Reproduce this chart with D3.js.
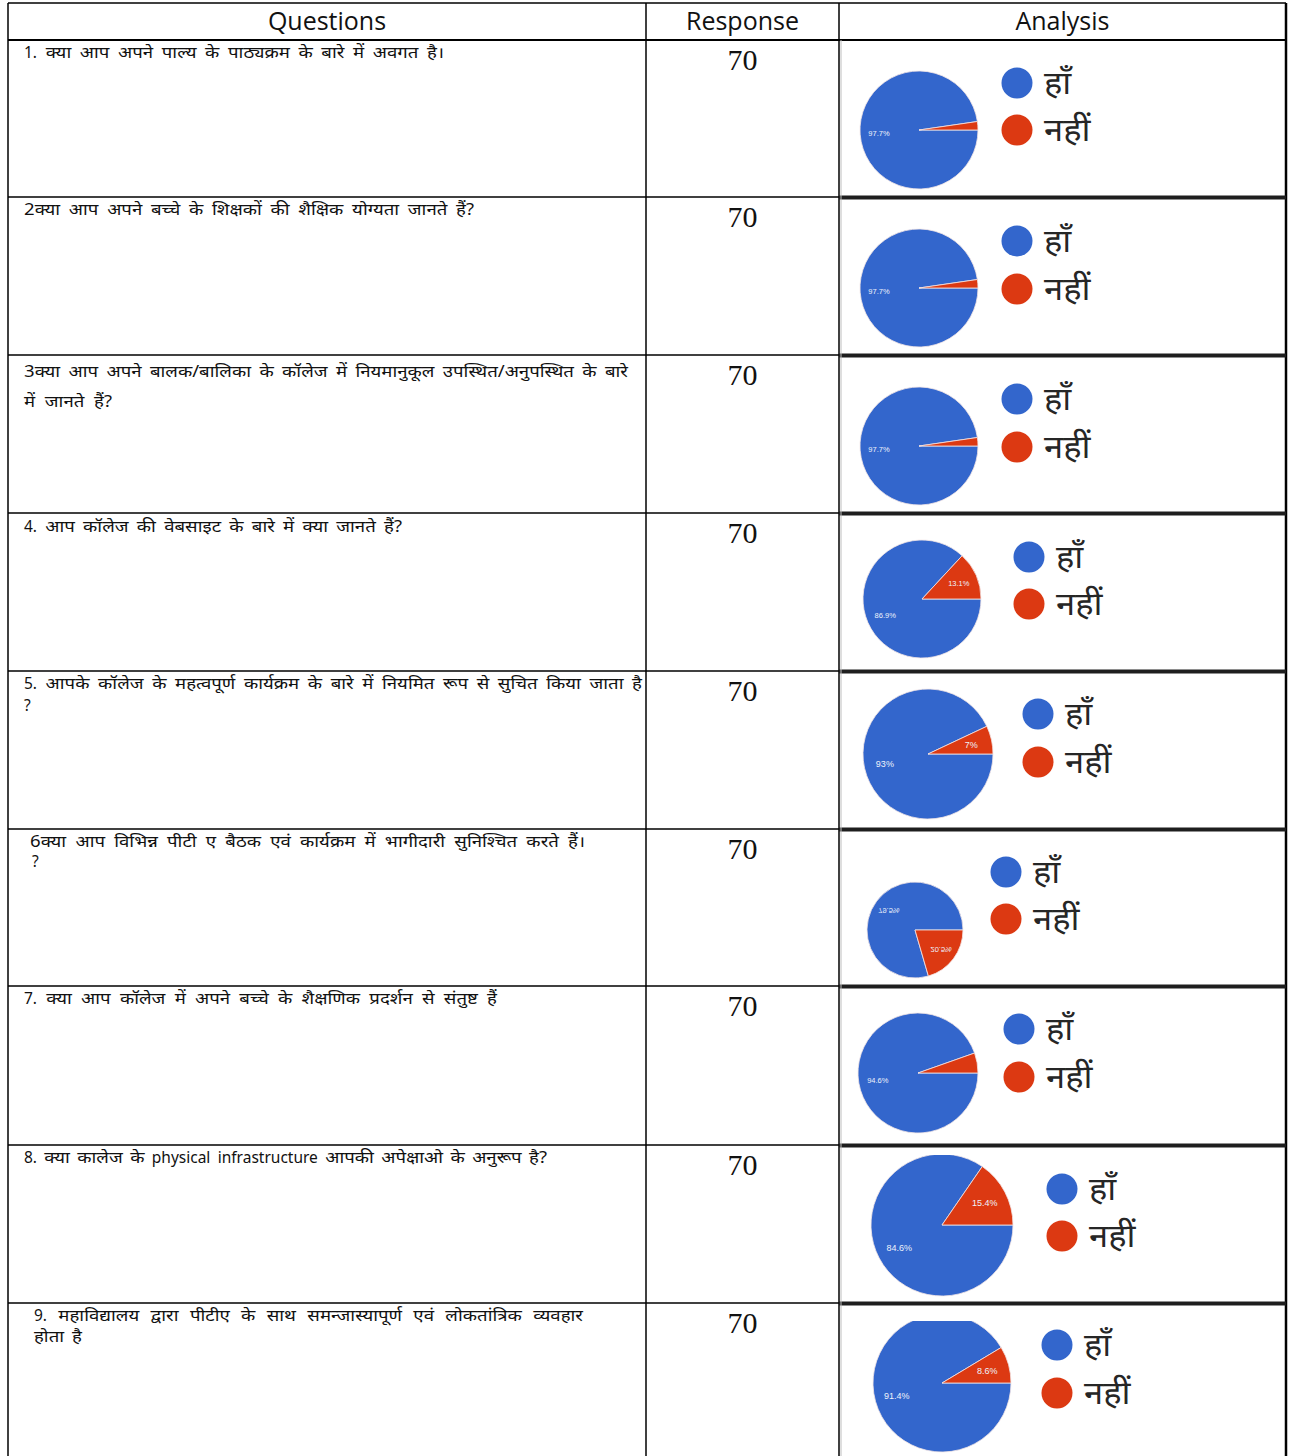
<!DOCTYPE html>
<html>
<head>
<meta charset="utf-8">
<script src="https://cdn.jsdelivr.net/npm/d3@7"></script>
<style>
  html, body { margin: 0; padding: 0; background: #fff; }
  svg { display: block; }
</style>
</head>
<body>
<svg id="chart" width="1289" height="1456"></svg>
<script>
// ---------------- DATA ----------------
const headers = ["Questions", "Response", "Analysis"];
const categories = ["हाँ", "नहीं"];
const questions = [
  ["1. क्या आप अपने पाल्य के पाठ्यक्रम के बारे में अवगत है।"],
  ["2क्या आप अपने बच्चे के शिक्षकों की शैक्षिक योग्यता जानते हैं?"],
  ["3क्या आप अपने बालक/बालिका के कॉलेज में नियमानुकूल उपस्थित/अनुपस्थित के बारे", "में जानते हैं?"],
  ["4. आप कॉलेज की वेबसाइट के बारे में क्या जानते हैं?"],
  ["5. आपके कॉलेज के महत्वपूर्ण कार्यक्रम के बारे में नियमित रूप से सुचित किया जाता है", "?"],
  ["6क्या आप विभिन्न पीटी ए बैठक एवं कार्यक्रम में भागीदारी सुनिश्चित करते हैं।", "?"],
  ["7. क्या आप कॉलेज में अपने बच्चे के शैक्षणिक प्रदर्शन से संतुष्ट हैं"],
  ["8. क्या कालेज के physical infrastructure आपकी अपेक्षाओ के अनुरूप है?"],
  ["9. महाविद्यालय द्वारा पीटीए के साथ समन्जास्यापूर्ण एवं लोकतांत्रिक व्यवहार", "होता है"]
];
const responses = [70, 70, 70, 70, 70, 70, 70, 70, 70];
const yesPct = [97.7, 97.7, 97.7, 86.9, 93, 79.5, 94.6, 84.6, 91.4];
const noPct  = [2.3, 2.3, 2.3, 13.1, 7, 20.5, 5.4, 15.4, 8.6];
const yesLabels = ["97.7%", "97.7%", "97.7%", "86.9%", "93%", "79.5%", "94.6%", "84.6%", "91.4%"];
const noLabels  = ["", "", "", "13.1%", "7%", "20.5%", "", "15.4%", "8.6%"];

// ---------------- LAYOUT ----------------
const W = 1289, H = 1456;
const colX = [8, 646, 839, 1286];
const headerTop = 3, headerBottom = 40;
const rowTops = [40, 197, 355, 513, 671, 829, 986, 1145, 1303, 1456];
// pie geometry per row: [cx, cy, r, legendX, legendY1, legendY2, clipTop, flipped]
const pieLayout = [
  [919, 130, 59, 1017, 83, 130, 0, false],
  [919, 288, 59, 1017, 241, 289, 0, false],
  [919, 446, 59, 1017, 399, 447, 0, false],
  [922, 599, 59, 1029, 557, 604, 0, false],
  [928, 754, 65, 1038, 714, 762, 0, false],
  [915, 930, 48, 1006, 872, 919, 0, true],
  [918, 1073, 60, 1019, 1029, 1077, 0, false],
  [942, 1225, 71, 1062, 1189, 1236, 1155, false],
  [942, 1383, 69, 1057, 1345, 1393, 1321, false]
];
// per-row text layout: x of each line, baseline offsets, target widths (px) per line
const qTextX = [[24], [24], [24, 24], [24], [24, 24], [30, 32], [24], [24], [34, 34]];
const qLineY = [[18], [18], [22, 52], [19], [18, 40], [18, 38], [18], [18], [18, 39]];
const qTargetW = [[420], [450], [604, 88], [378], [618, null], [555, null], [473], [523], [549, 48]];
const colors = { yes: "#3366cc", no: "#dc3912" };

const devFont = "'Noto Sans', 'Lohit Devanagari', 'Mangal', sans-serif";
const devScaleX = 1.2;
const svg = d3.select("#chart");

// Header text
const headerCenters = [(colX[0] + colX[1]) / 2, (colX[1] + colX[2]) / 2, (colX[2] + colX[3]) / 2];
svg.selectAll("text.hdr").data(headers).join("text")
  .attr("class", "hdr")
  .attr("x", (d, i) => headerCenters[i])
  .attr("y", 30)
  .attr("text-anchor", "middle")
  .attr("font-family", "'Open Sans', Carlito, sans-serif")
  .attr("font-size", 25)
  .attr("fill", "#111")
  .text(d => d);

// Rows
const rows = d3.range(questions.length);
const yScale = d3.scaleOrdinal().domain(rows).range(rowTops.slice(0, 9));

rows.forEach(i => {
  const top = yScale(i);
  questions[i].forEach((ln, k) => {
    const words = ln.split(" ");
    const y = top + qLineY[i][k];
    const lineG = svg.append("g").attr("class", "qline");
    const items = words.map(w => {
      const sx = /[\u0900-\u097F]/.test(w) ? devScaleX : 1.0;
      const t = lineG.append("text")
        .attr("font-family", devFont)
        .attr("font-size", 15.5)
        .attr("fill", "#111")
        .text(w);
      return { t, sx, w: t.node().getComputedTextLength() * sx };
    });
    const total = d3.sum(items, d => d.w);
    const target = qTargetW[i][k];
    const gap = (target && items.length > 1) ? (target - total) / (items.length - 1) : 5;
    let x = qTextX[i][k];
    items.forEach(it => {
      it.t.attr("transform", `translate(${x.toFixed(2)},${y}) scale(${it.sx},1)`);
      x += it.w + gap;
    });
  });
  // Response number
  svg.append("text")
    .attr("x", headerCenters[1])
    .attr("y", top + 30)
    .attr("text-anchor", "middle")
    .attr("font-family", "'Liberation Serif', 'Times New Roman', serif")
    .attr("font-size", 30)
    .attr("fill", "#111")
    .text(responses[i]);
});

// Pies
const pieSteady = d3.pie().sort(null).value(d => d.v)
  .startAngle(Math.PI / 2).endAngle(Math.PI / 2 + 2 * Math.PI);
const pieFlip = d3.pie().sort(null).value(d => d.v)
  .startAngle(Math.PI / 2).endAngle(Math.PI / 2 - 2 * Math.PI);

const defs = svg.append("defs");
rows.forEach(i => {
  const [cx, cy, r, lx, ly1, ly2, clipTop, flipped] = pieLayout[i];
  const top = yScale(i);
  const bottom = rowTops[i + 1];
  const ctop = clipTop || top;
  defs.append("clipPath").attr("id", "clip" + i)
    .append("rect").attr("x", colX[2]).attr("y", ctop)
    .attr("width", colX[3] - colX[2]).attr("height", bottom - ctop);

  const g = svg.append("g").attr("clip-path", `url(#clip${i})`);
  const pg = g.append("g").attr("transform", `translate(${cx},${cy})`);
  const data = [
    { k: "yes", v: yesPct[i], label: yesLabels[i] },
    { k: "no", v: noPct[i], label: noLabels[i] }
  ];
  const arcs = (flipped ? pieFlip : pieSteady)(data);
  const arc = d3.arc().innerRadius(0).outerRadius(r);
  const labelArc = d3.arc().innerRadius(r * 0.68).outerRadius(r * 0.68);
  pg.selectAll("path").data(arcs).join("path")
    .attr("d", arc)
    .attr("fill", d => colors[d.data.k])
    .attr("stroke", "#f2e6e6")
    .attr("stroke-width", 0.8);
  const fs = r >= 65 ? 9 : 7.5;
  pg.selectAll("text").data(arcs.filter(d => d.data.label)).join("text")
    .attr("transform", d => {
      const [x, y] = labelArc.centroid(d);
      return `translate(${x},${y})` + (flipped ? " scale(1,-1)" : "");
    })
    .attr("text-anchor", "middle")
    .attr("dy", "0.35em")
    .attr("font-family", "Arial, 'Liberation Sans', sans-serif")
    .attr("font-size", fs)
    .attr("fill", "#eef2fb")
    .text(d => d.data.label);

  // Legend
  const ly = [ly1, ly2];
  categories.forEach((c, k) => {
    g.append("circle")
      .attr("cx", lx).attr("cy", ly[k]).attr("r", 15.5)
      .attr("fill", k === 0 ? colors.yes : colors.no);
    g.append("text")
      .attr("transform", `translate(${lx + 27},${ly[k] + 11}) scale(1.08,1)`)
      .attr("font-family", devFont)
      .attr("font-size", 32)
      .attr("fill", "#262626")
      .text(c);
  });
});

// Grid lines
const gl = svg.append("g").attr("stroke", "#000").attr("fill", "none");
gl.append("line").attr("x1", colX[0]).attr("x2", colX[3]).attr("y1", headerTop).attr("y2", headerTop).attr("stroke-width", 1.5);
gl.append("line").attr("x1", colX[0]).attr("x2", colX[3]).attr("y1", headerBottom).attr("y2", headerBottom).attr("stroke-width", 2);
colX.forEach((x, i) => {
  gl.append("line").attr("x1", x).attr("x2", x).attr("y1", headerTop).attr("y2", H)
    .attr("stroke-width", i === 3 ? 2.5 : 1.5);
});
rowTops.slice(1, 9).forEach(y => {
  gl.append("line").attr("x1", colX[0]).attr("x2", colX[2]).attr("y1", y).attr("y2", y).attr("stroke-width", 1.5);
  gl.append("line").attr("x1", colX[2]).attr("x2", colX[3]).attr("y1", y + 0.5).attr("y2", y + 0.5)
    .attr("stroke", "#1e1e1e").attr("stroke-width", 4);
});
gl.append("line").attr("x1", colX[2] + 2).attr("x2", colX[2] + 2).attr("y1", headerBottom).attr("y2", H)
  .attr("stroke", "#bdbdbd").attr("stroke-width", 1);
</script>
</body>
</html>
